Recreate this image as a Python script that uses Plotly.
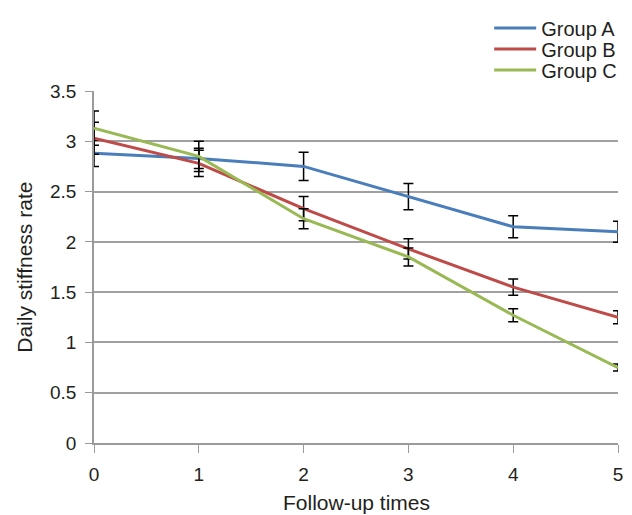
import plotly.graph_objects as go

follow_up = [0, 1, 2, 3, 4, 5]
group_a = [2.88, 2.83, 2.75, 2.45, 2.15, 2.10]
group_a_err = [0.13, 0.10, 0.14, 0.13, 0.11, 0.105]
group_b = [3.03, 2.78, 2.33, 1.93, 1.55, 1.25]
group_b_err = [0.16, 0.13, 0.12, 0.10, 0.08, 0.065]
group_c = [3.13, 2.85, 2.23, 1.85, 1.27, 0.75]
group_c_err = [0.17, 0.15, 0.10, 0.09, 0.065, 0.035]

names = ["Group A", "Group B", "Group C"]
colors = ["#4A7EBB", "#BE4B48", "#98B954"]
series = [group_a, group_b, group_c]
errors = [group_a_err, group_b_err, group_c_err]
legend_ids = ["legend", "legend2", "legend3"]
legend_y = [0.9456, 0.9049, 0.8641]

fig = go.Figure()
for name, color, ys, es, lid in zip(names, colors, series, errors, legend_ids):
    fig.add_trace(go.Scatter(
        x=follow_up, y=ys, mode="lines", name=name, legend=lid,
        line=dict(color=color, width=3),
        error_y=dict(type="data", array=es, visible=True, color="#000000",
                     thickness=1.5, width=5),
    ))

font_family = "Liberation Sans, Arial, sans-serif"
fs = 19
title_fs = 21
legend_common = dict(x=0.774, xref="container", yref="container",
                     xanchor="left", yanchor="middle",
                     bgcolor="rgba(0,0,0,0)", font=dict(size=20), itemwidth=42)

layout_legends = {}
for lid, ly in zip(legend_ids, legend_y):
    layout_legends[lid] = dict(legend_common, y=ly)

fig.update_layout(
    width=632, height=515,
    margin=dict(l=94, r=14, t=91, b=72, autoexpand=False),
    paper_bgcolor="white", plot_bgcolor="white",
    font=dict(family=font_family, size=fs, color="#231F20"),
    showlegend=True,
    xaxis=dict(range=[0, 5], tickvals=follow_up, ticktext=[str(v) for v in follow_up],
               showgrid=False, zeroline=False, showline=True, linecolor="#9A9A9A",
               linewidth=1.5, ticks="outside", ticklen=8, tickcolor="#9A9A9A",
               ticklabelstandoff=5, automargin=False,
               tickfont=dict(size=fs)),
    yaxis=dict(range=[0, 3.5], dtick=0.5, tick0=0, showgrid=True, gridcolor="#A0A0A0",
               gridwidth=1.5, zeroline=False, showline=True, linecolor="#9A9A9A",
               linewidth=1.5, ticks="outside", ticklen=7, tickcolor="#9A9A9A",
               ticklabelstandoff=5, automargin=False,
               tickfont=dict(size=fs)),
    annotations=[
        dict(text="Follow-up times", xref="paper", yref="paper", x=0.5, y=-0.168,
             xanchor="center", yanchor="middle", showarrow=False,
             font=dict(size=title_fs)),
        dict(text="Daily stiffness rate", xref="paper", yref="paper", x=-0.134, y=0.5,
             xanchor="center", yanchor="middle", textangle=-90, showarrow=False,
             font=dict(size=title_fs)),
    ],
    **layout_legends,
)

fig.write_html("out.html")
